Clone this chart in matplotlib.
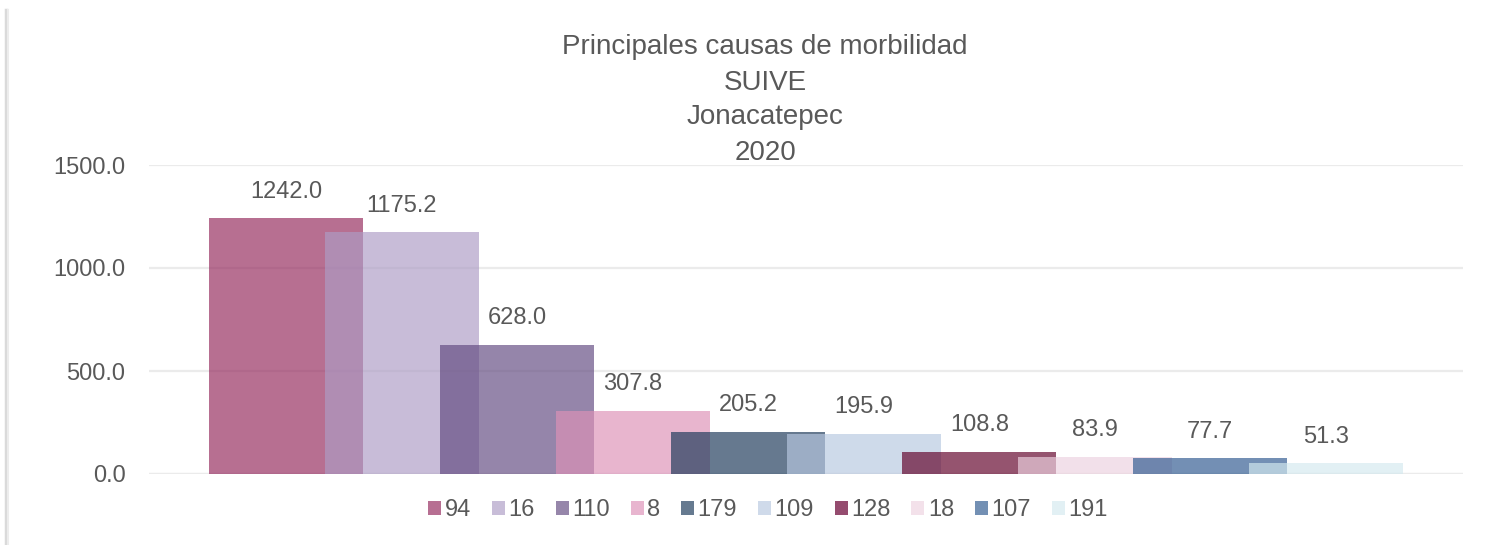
import numpy as np
import matplotlib
matplotlib.use("Agg")
import matplotlib.pyplot as plt
from matplotlib import colors as mcolors
from matplotlib.lines import Line2D

# ---- data ----
series_labels = ["94", "16", "110", "8", "179", "109", "128", "18", "107", "191"]
values = [1242.0, 1175.2, 628.0, 307.8, 205.2, 195.9, 108.8, 83.9, 77.7, 51.3]
yticks = [0, 500, 1000, 1500]
title_lines = ["Principales causas de morbilidad", "SUIVE", "Jonacatepec", "2020"]

# ---- style ----
visible_colors = ["#B76F92", "#C8BDD8", "#9686AA", "#E8B5CF", "#667A90",
                  "#CFDAEA", "#954C6F", "#F3E1EA", "#7390B4", "#E2F0F4"]
ALPHA = 0.67
def true_color(hexc):
    rgb = np.array(mcolors.to_rgb(hexc))
    t = (rgb - (1 - ALPHA)) / ALPHA
    return tuple(np.clip(t, 0, 1))
bar_colors = [true_color(c) for c in visible_colors]

FONT = ["Liberation Sans Narrow", "Liberation Sans", "DejaVu Sans"]
plt.rcParams["font.family"] = FONT
TXT = "#595959"
FS = 17

W, H = 1504, 545
fig = plt.figure(figsize=(W / 100, H / 100), dpi=100)
ax = fig.add_axes([149 / W, 1 - 474 / H, (1463 - 149) / W, (474 - 165) / H])

plot_w = 1463 - 149
step = 115.5 / plot_w
width = 154 / plot_w
n = len(values)
for i, (lab, v) in enumerate(zip(series_labels, values)):
    x = (i - (n - 1) / 2) * step
    ax.bar(x, v, width=width, color=bar_colors[i], alpha=ALPHA, label=lab,
           zorder=3 + i, linewidth=0)
    ax.annotate(f"{v:.1f}", (x, v), xytext=(0, 11), textcoords="offset points",
                ha="center", va="bottom", fontsize=FS, color=TXT, zorder=20)

ax.set_xlim(-0.5, 0.5)
ax.set_ylim(0, 1500)
ax.set_yticks(yticks)
ax.set_yticklabels([f"{t:.1f}" for t in yticks])
ax.set_xticks([])
ax.tick_params(axis="y", length=0, pad=17, labelsize=FS, labelcolor=TXT)
for s in ax.spines.values():
    s.set_visible(False)
ax.grid(axis="y", color="#EBEBEB", linewidth=1.6, zorder=0)
ax.set_axisbelow(True)
ax.axhline(0, color="#EBEBEB", linewidth=1.6, zorder=1)

fig.text(765 / W, 1 - 100 / H, "\n".join(title_lines), ha="center", va="center",
         fontsize=20, color=TXT, linespacing=1.45)

handles = [plt.Rectangle((0, 0), 1, 1, facecolor=c, edgecolor="none")
           for c in visible_colors]
leg = fig.legend(handles, series_labels, loc="center", ncol=n,
                 bbox_to_anchor=(768 / W, 1 - 510 / H), frameon=False,
                 fontsize=FS, handlelength=0.55, handleheight=0.55,
                 handletextpad=0.15, columnspacing=0.88, labelcolor=TXT)

# left shadow edge of the chart frame
fig.add_artist(Line2D([6 / W, 6 / W], [0, 1 - 10 / H], transform=fig.transFigure,
                      color="#DADADA", linewidth=2.5))
fig.add_artist(Line2D([8 / W, 8 / W], [0, 1 - 10 / H], transform=fig.transFigure,
                      color="#ECECEC", linewidth=1.5))

fig.savefig("out.png", dpi=100)
